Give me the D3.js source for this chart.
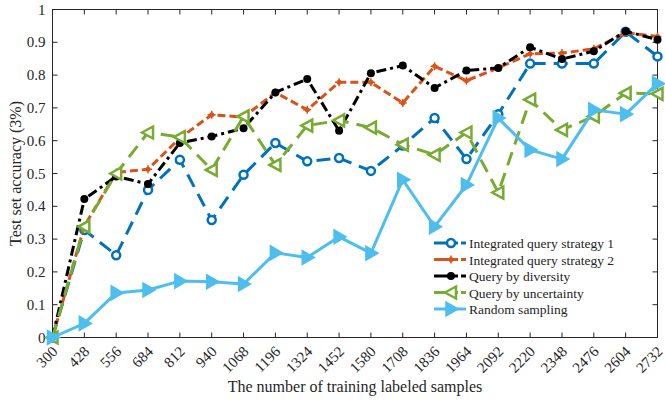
<!doctype html>
<html>
<head>
<meta charset="UTF-8">
<script src="https://cdn.jsdelivr.net/npm/d3@7"></script>
<style>
  body { margin: 0; background: #fff; }
  text { font-family: "Liberation Serif", "Times New Roman", serif; fill: #262626; }
</style>
</head>
<body>
<script>
// training set sizes
var samples = [300, 428, 556, 684, 812, 940, 1068, 1196, 1324, 1452, 1580, 1708, 1836, 1964, 2092, 2220, 2348, 2476, 2604, 2732];

var integrated1 = [0, 0.328, 0.251, 0.450, 0.542, 0.358, 0.496, 0.593, 0.537, 0.547, 0.508, 0.585, 0.669, 0.544, 0.681, 0.835, 0.835, 0.835, 0.932, 0.857];
var integrated2 = [0, 0.340, 0.503, 0.513, 0.608, 0.679, 0.672, 0.747, 0.694, 0.778, 0.778, 0.715, 0.827, 0.783, 0.822, 0.865, 0.867, 0.880, 0.929, 0.918];
var diversity   = [0, 0.422, 0.491, 0.468, 0.593, 0.613, 0.638, 0.747, 0.788, 0.630, 0.806, 0.829, 0.761, 0.814, 0.822, 0.885, 0.849, 0.873, 0.934, 0.908];
var uncertainty = [0, 0.338, 0.500, 0.625, 0.611, 0.511, 0.674, 0.526, 0.646, 0.662, 0.640, 0.588, 0.557, 0.625, 0.442, 0.725, 0.633, 0.674, 0.745, 0.743];
var randomSamp  = [0, 0.043, 0.136, 0.145, 0.172, 0.170, 0.163, 0.258, 0.244, 0.307, 0.257, 0.481, 0.338, 0.465, 0.669, 0.572, 0.544, 0.694, 0.681, 0.774];

var yTicks = [0, 0.1, 0.2, 0.3, 0.4, 0.5, 0.6, 0.7, 0.8, 0.9, 1];

var series = [
  {name: 'Integrated query strategy 1', values: integrated1, color: '#0072BD', dash: '14,8', marker: 'circle'},
  {name: 'Integrated query strategy 2', values: integrated2, color: '#D95319', dash: '8,4', marker: 'plus'},
  {name: 'Query by diversity', values: diversity, color: '#000000', dash: '10,4,3,4', marker: 'dot'},
  {name: 'Query by uncertainty', values: uncertainty, color: '#77AC30', dash: '14,8', marker: 'triLeft'},
  {name: 'Random sampling', values: randomSamp, color: '#4DBEEE', dash: null, marker: 'triRight'}
];

var width = 665, height = 401;
var pL = 52.5, pR = 657.5, pT = 9.5, pB = 337.5;

var svg = d3.select('body').append('svg')
  .attr('width', width)
  .attr('height', height);

var x = d3.scalePoint().domain(samples).range([pL, pR]);
var y = d3.scaleLinear().domain([0, 1]).range([pB, pT]);

// box
svg.append('rect')
  .attr('x', pL).attr('y', pT)
  .attr('width', pR - pL).attr('height', pB - pT)
  .attr('fill', 'none').attr('stroke', '#262626').attr('stroke-width', 1);

// ticks (inward, all four sides)
var tl = 5;
samples.forEach(function(s) {
  svg.append('line').attr('x1', x(s)).attr('x2', x(s)).attr('y1', pB).attr('y2', pB - tl).attr('stroke', '#262626');
  svg.append('line').attr('x1', x(s)).attr('x2', x(s)).attr('y1', pT).attr('y2', pT + tl).attr('stroke', '#262626');
});
yTicks.forEach(function(t) {
  svg.append('line').attr('x1', pL).attr('x2', pL + tl).attr('y1', y(t)).attr('y2', y(t)).attr('stroke', '#262626');
  svg.append('line').attr('x1', pR).attr('x2', pR - tl).attr('y1', y(t)).attr('y2', y(t)).attr('stroke', '#262626');
});

svg.selectAll('.ylab')
  .data(yTicks)
  .enter().append('text')
  .attr('x', pL - 7)
  .attr('y', d => y(d) + 5)
  .attr('text-anchor', 'end')
  .style('font-size', '15px')
  .text(d => d);

svg.selectAll('.xlab')
  .data(samples)
  .enter().append('text')
  .attr('text-anchor', 'end')
  .style('font-size', '15px')
  .attr('transform', d => 'translate(' + (x(d) + 6) + ',' + (pB + 15) + ')rotate(-45)')
  .text(d => d);

svg.append('text')
  .attr('x', (pL + pR) / 2)
  .attr('y', 392)
  .attr('text-anchor', 'middle')
  .style('font-size', '16px')
  .text('The number of training labeled samples');

svg.append('text')
  .attr('transform', 'translate(21,' + ((pT + pB) / 2) + ')rotate(-90)')
  .attr('text-anchor', 'middle')
  .style('font-size', '16px')
  .text('Test set accuracy (3%)');

function drawMarker(g, type, color, cx, cy) {
  if (type == 'circle') {
    g.append('circle').attr('cx', cx).attr('cy', cy).attr('r', 4)
      .attr('fill', '#fff').attr('stroke', color).attr('stroke-width', 2.5);
  } else if (type == 'plus') {
    g.append('circle').attr('cx', cx).attr('cy', cy).attr('r', 2.5).attr('fill', color);
    g.append('path').attr('d', 'M' + (cx - 4) + ',' + cy + 'H' + (cx + 4) + 'M' + cx + ',' + (cy - 4) + 'V' + (cy + 4))
      .attr('stroke', color).attr('stroke-width', 1.5);
  } else if (type == 'dot') {
    g.append('circle').attr('cx', cx).attr('cy', cy).attr('r', 4).attr('fill', color);
  } else if (type == 'triLeft') {
    g.append('path').attr('d', 'M' + (cx - 6) + ',' + cy + 'L' + (cx + 5) + ',' + (cy - 6) + 'L' + (cx + 5) + ',' + (cy + 6) + 'Z')
      .attr('fill', '#fff').attr('stroke', color).attr('stroke-width', 2.5).attr('stroke-linejoin', 'miter');
  } else if (type == 'triRight') {
    g.append('path').attr('d', 'M' + (cx + 7) + ',' + cy + 'L' + (cx - 5) + ',' + (cy - 7) + 'L' + (cx - 5) + ',' + (cy + 7) + 'Z')
      .attr('fill', color).attr('stroke', color).attr('stroke-width', 1.5);
  }
}

var line = d3.line().x((d, i) => x(samples[i])).y(d => y(d));

series.forEach(function(s) {
  var g = svg.append('g');
  g.append('path')
    .attr('d', line(s.values))
    .attr('fill', 'none')
    .attr('stroke', s.color)
    .attr('stroke-width', 3)
    .attr('stroke-dasharray', s.dash)
    .attr('stroke-linejoin', 'round');
  s.values.forEach(function(v, i) {
    drawMarker(g, s.marker, s.color, x(samples[i]), y(v));
  });
});

// legend
var lg = svg.append('g');
series.forEach(function(s, i) {
  var ly = 243 + i * 16.5;
  lg.append('line')
    .attr('x1', 434).attr('x2', 466).attr('y1', ly).attr('y2', ly)
    .attr('stroke', s.color).attr('stroke-width', 3)
    .attr('stroke-dasharray', s.dash ? '24,3,6' : null);
  drawMarker(lg, s.marker, s.color, 451, ly);
  lg.append('text')
    .attr('x', 469)
    .attr('y', ly + 5)
    .style('font-size', '13.5px')
    .text(s.name);
});
</script>
</body>
</html>
